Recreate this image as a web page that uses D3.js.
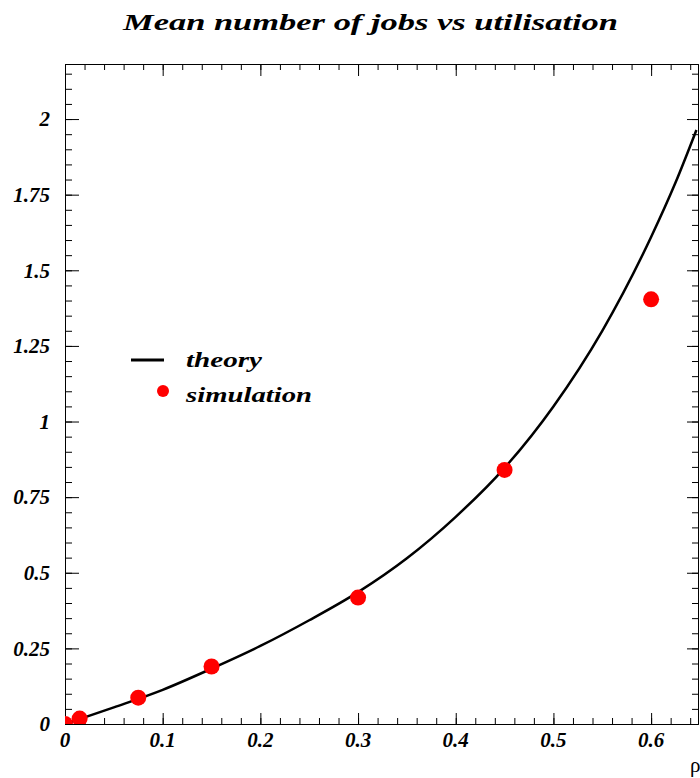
<!DOCTYPE html>
<html>
<head>
<meta charset="utf-8">
<script src="https://cdn.jsdelivr.net/npm/d3@7"></script>
<style>
  body { margin: 0; background: #fff; }
  text { font-family: "Liberation Serif", "Times New Roman", serif; font-weight: bold; font-style: italic; fill: #000; }
</style>
</head>
<body>
<svg id="chart" width="700" height="778"></svg>
<script>
// simulation points
var simRho = [0, 0.015, 0.075, 0.15, 0.3, 0.45, 0.6];
var simJobs = [0, 0.018, 0.087, 0.19, 0.418, 0.84, 1.404];

// theory curve
var theoryRho = [0, 0.05, 0.1, 0.15, 0.2, 0.25, 0.3, 0.35, 0.4, 0.45, 0.5, 0.55, 0.6, 0.625, 0.6464];
var theoryJobs = [0, 0.055, 0.113, 0.183, 0.258, 0.343, 0.436, 0.548, 0.685, 0.847, 1.05, 1.30, 1.61, 1.79, 1.964];

var yTicks = [0, 0.25, 0.5, 0.75, 1, 1.25, 1.5, 1.75, 2];
var yTickLabels = ['0', '0.25', '0.5', '0.75', '1', '1.25', '1.5', '1.75', '2'];
var xTicks = [0, 0.1, 0.2, 0.3, 0.4, 0.5, 0.6];
var xTickLabels = ['0', '0.1', '0.2', '0.3', '0.4', '0.5', '0.6'];

var svg = d3.select('#chart'),
    frameL = 65, frameR = 698, frameT = 64, frameB = 724;

var x = d3.scaleLinear().domain([0, 0.648]).range([frameL, frameR]);
var y = d3.scaleLinear().domain([0, 2.182]).range([frameB, frameT]);

var xMinor = d3.range(0, 0.648, 0.02);
var yMinor = d3.range(0, 2.18, 0.05);

function styleAxis(g) {
    g.selectAll('path, line').attr('stroke', '#000').attr('stroke-width', 1);
    g.selectAll('text').remove();
}

// bottom
svg.append('g').attr('transform', 'translate(0,' + frameB + ')')
    .call(d3.axisBottom(x).tickValues(xMinor).tickSizeInner(-6).tickSizeOuter(0)).call(styleAxis);
svg.append('g').attr('transform', 'translate(0,' + frameB + ')')
    .call(d3.axisBottom(x).tickValues(xTicks).tickSizeInner(-11).tickSizeOuter(0)).call(styleAxis);
// top
svg.append('g').attr('transform', 'translate(0,' + frameT + ')')
    .call(d3.axisTop(x).tickValues(xMinor).tickSizeInner(-6).tickSizeOuter(0)).call(styleAxis);
svg.append('g').attr('transform', 'translate(0,' + frameT + ')')
    .call(d3.axisTop(x).tickValues(xTicks).tickSizeInner(-12).tickSizeOuter(0)).call(styleAxis);
// left
svg.append('g').attr('transform', 'translate(' + frameL + ',0)')
    .call(d3.axisLeft(y).tickValues(yMinor).tickSizeInner(-7).tickSizeOuter(0)).call(styleAxis);
svg.append('g').attr('transform', 'translate(' + frameL + ',0)')
    .call(d3.axisLeft(y).tickValues(yTicks).tickSizeInner(-14).tickSizeOuter(0)).call(styleAxis);
// right
svg.append('g').attr('transform', 'translate(' + frameR + ',0)')
    .call(d3.axisRight(y).tickValues(yMinor).tickSizeInner(-6).tickSizeOuter(0)).call(styleAxis);
svg.append('g').attr('transform', 'translate(' + frameR + ',0)')
    .call(d3.axisRight(y).tickValues(yTicks).tickSizeInner(-11).tickSizeOuter(0)).call(styleAxis);

// tick labels
svg.append('g').selectAll('text')
    .data(yTicks)
    .enter()
    .append('text')
    .attr('x', 50)
    .attr('y', d => y(d))
    .attr('dy', '0.35em')
    .attr('text-anchor', 'end')
    .style('font-size', '21px')
    .text((d, i) => yTickLabels[i]);

svg.append('g').selectAll('text')
    .data(xTicks)
    .enter()
    .append('text')
    .attr('x', d => x(d))
    .attr('y', 747)
    .attr('text-anchor', 'middle')
    .style('font-size', '21px')
    .text((d, i) => xTickLabels[i]);

svg.append('text')
    .attr('x', 690)
    .attr('y', 772)
    .style('font-size', '21px')
    .style('font-weight', 'normal')
    .style('font-style', 'normal')
    .text('ρ');

// title
svg.append('text')
    .attr('x', 123)
    .attr('y', 30)
    .attr('textLength', 495)
    .attr('lengthAdjust', 'spacingAndGlyphs')
    .style('font-size', '23px')
    .text('Mean number of jobs vs utilisation');

// plot area
svg.append('clipPath').attr('id', 'frame')
    .append('rect')
    .attr('x', frameL).attr('y', frameT)
    .attr('width', frameR - frameL).attr('height', frameB - frameT);

var plot = svg.append('g').attr('clip-path', 'url(#frame)');

var line = d3.line()
    .x((d, i) => x(theoryRho[i]))
    .y(d => y(d))
    .curve(d3.curveMonotoneX);

plot.append('path')
    .datum(theoryJobs)
    .attr('d', line)
    .attr('fill', 'none')
    .attr('stroke', '#000')
    .attr('stroke-width', 2.5);

plot.selectAll('circle')
    .data(simJobs)
    .enter()
    .append('circle')
    .attr('cx', (d, i) => x(simRho[i]))
    .attr('cy', d => y(d))
    .attr('r', 8)
    .attr('fill', '#ff0000');

// legend
var legend = svg.append('g');
legend.append('line')
    .attr('x1', 131).attr('x2', 164)
    .attr('y1', 360).attr('y2', 360)
    .attr('stroke', '#000').attr('stroke-width', 3);
legend.append('circle')
    .attr('cx', 163).attr('cy', 391)
    .attr('r', 6).attr('fill', '#ff0000');
legend.append('text')
    .attr('x', 186).attr('y', 367)
    .attr('textLength', 76)
    .attr('lengthAdjust', 'spacingAndGlyphs')
    .style('font-size', '21px')
    .text('theory');
legend.append('text')
    .attr('x', 186).attr('y', 402)
    .attr('textLength', 126)
    .attr('lengthAdjust', 'spacingAndGlyphs')
    .style('font-size', '21px')
    .text('simulation');
</script>
</body>
</html>
